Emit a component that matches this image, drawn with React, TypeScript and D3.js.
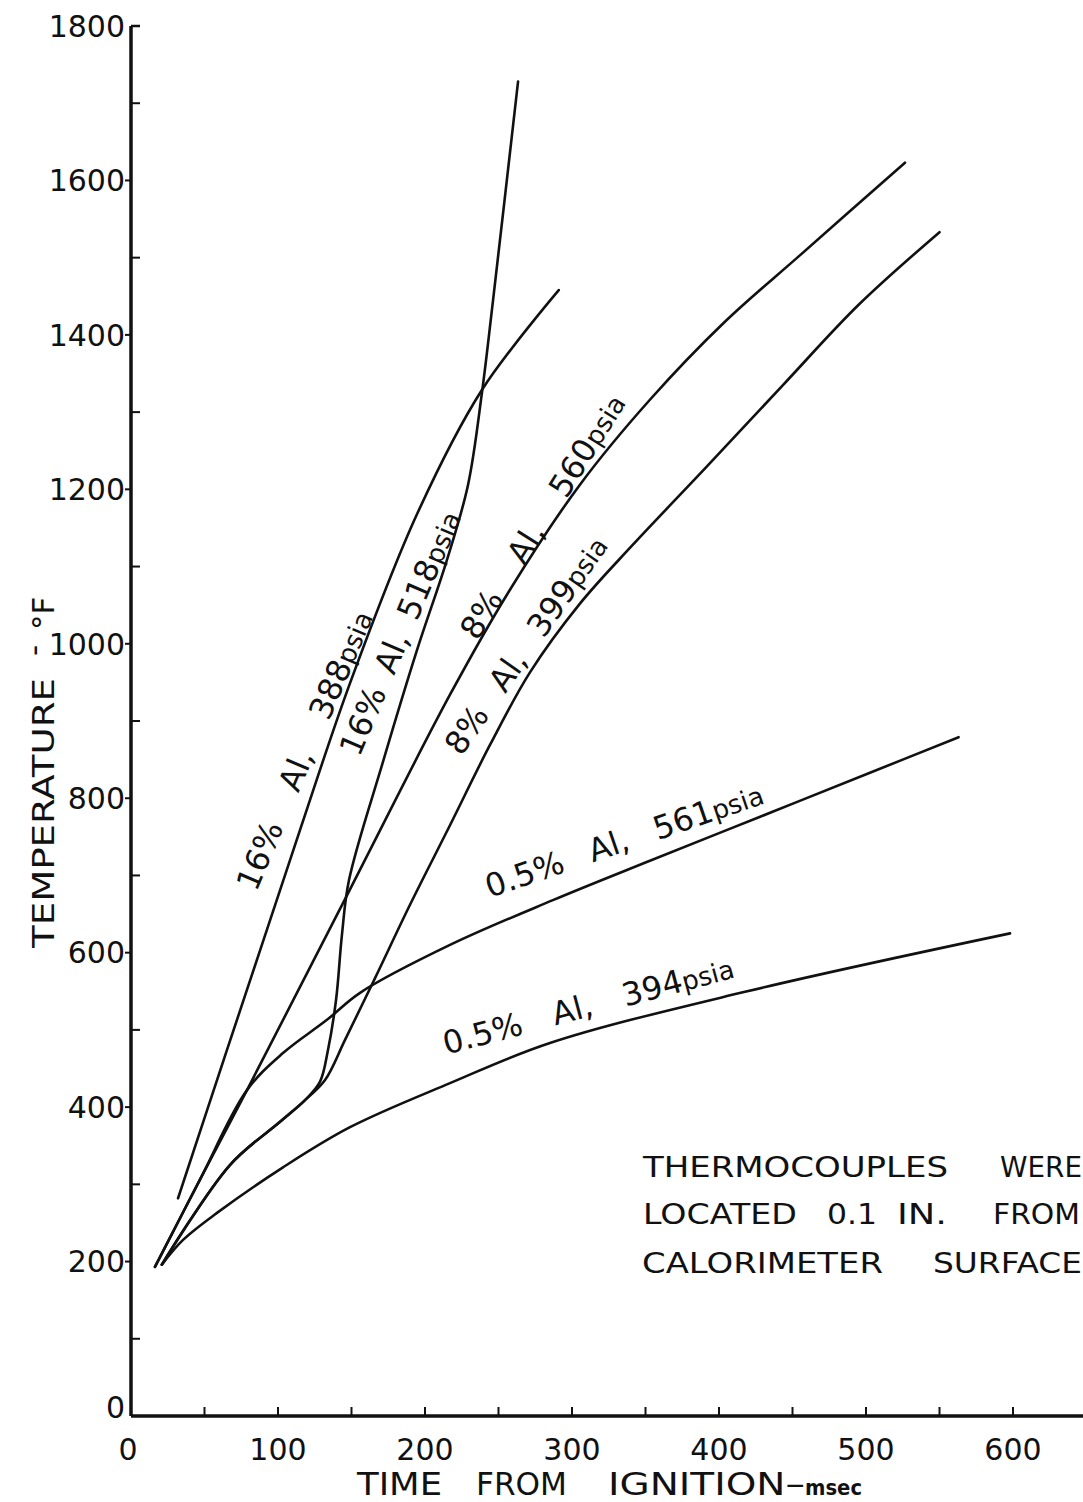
import React, { useEffect, useRef } from "react";
import * as d3 from "d3";

const W = 1083;
const H = 1502;

// tick values
const xTickLabels = [0, 100, 200, 300, 400, 500, 600];
const xMinorTicks = [50, 100, 150, 200, 250, 300, 350, 400, 450, 500, 550, 600];
const yTickLabels = [0, 200, 400, 600, 800, 1000, 1200, 1400, 1600, 1800];
const yMinorTicks = [100, 300, 500, 700, 900, 1100, 1300, 1500, 1700];

// [time msec, temperature °F]
const al16_388 = [[32, 282], [65.3, 474], [87.8, 603], [115, 759], [149, 949], [194.6, 1168], [238.8, 1329], [291, 1458]];
const al16_518 = [[21, 196], [67.3, 325], [101.4, 381], [118.4, 409], [128.6, 433], [134, 474], [139.5, 539], [143.5, 623], [148.3, 694], [171.4, 847], [194.6, 992], [215, 1109], [229.3, 1206], [238.8, 1326], [246.3, 1445], [263.3, 1728]];
const al8_560 = [[16.3, 193], [46.9, 306], [78.9, 422], [149, 682], [217, 934], [257.8, 1070], [305.4, 1206], [353, 1316], [404, 1417], [455, 1503], [526.5, 1623]];
const al8_399 = [[21, 196], [67.3, 325], [101.4, 381], [118.4, 409], [132, 435], [145.6, 487], [166, 567], [189.8, 662], [217, 765], [244.2, 869], [271.4, 963], [305.4, 1052], [340.8, 1127], [391, 1228], [443.5, 1335], [495, 1439], [550, 1533]];
const al05_561 = [[16.3, 193], [46.9, 306], [78.9, 422], [103.4, 470], [133.3, 513], [155.8, 548], [217, 610], [287, 668], [353, 719], [428, 776], [502.7, 833], [563, 879]];
const al05_394 = [[21, 196], [35.4, 228], [58.5, 263], [103.4, 322], [149, 374], [217, 431], [285, 483], [417, 549], [598, 625]];

const series = [al16_388, al16_518, al8_560, al8_399, al05_561, al05_394];

// curve labels: centre in data units, angle in degrees, drawn length in px
const curveLabels = [
  { words: ["16%", "Al,", "388"], unit: "psia", t: 118, T: 862, angle: -67, len: 300 },
  { words: ["16%", "Al,", "518"], unit: "psia", t: 183, T: 1014, angle: -67, len: 262 },
  { words: ["8%", "Al,", "560"], unit: "psia", t: 280, T: 1165, angle: -58, len: 282 },
  { words: ["8%", "Al,", "399"], unit: "psia", t: 268.7, T: 998.5, angle: -55, len: 258 },
  { words: ["0.5%", "Al,", "561"], unit: "psia", t: 335.4, T: 746, angle: -19, len: 292 },
  { words: ["0.5%", "Al,", "394"], unit: "psia", t: 311, T: 532, angle: -15, len: 300 },
];

// note words: [text, x start, x end, baseline]
const noteWords: [string, number, number, number][] = [
  ["THERMOCOUPLES", 643, 948, 1177],
  ["WERE", 1000, 1082, 1177],
  ["LOCATED", 643, 797, 1224],
  ["0.1", 827, 877, 1224],
  ["IN.", 897, 947, 1224],
  ["FROM", 993, 1080, 1224],
  ["CALORIMETER", 642, 883, 1273],
  ["SURFACE", 933, 1082, 1273],
];

const App = () => {
  const svgRef = useRef<SVGSVGElement>(null);

  useEffect(() => {
    const svg = d3.select(svgRef.current);
    svg.selectAll("*").remove();
    const font = "'DejaVu Sans', sans-serif";
    const ink = "#111";

    const x = d3.scaleLinear().domain([0, 600]).range([131, 1013]);
    const y = d3.scaleLinear().domain([0, 1800]).range([1416, 26]);

    // axes
    svg.append("line")
      .attr("x1", x(0)).attr("x2", W)
      .attr("y1", y(0)).attr("y2", y(0))
      .attr("stroke", ink).attr("stroke-width", 3.5);
    svg.append("line")
      .attr("x1", x(0)).attr("x2", x(0))
      .attr("y1", y(0)).attr("y2", y(1800))
      .attr("stroke", ink).attr("stroke-width", 3.5);
    svg.append("line")
      .attr("x1", x(0)).attr("x2", x(0) + 9)
      .attr("y1", y(1800)).attr("y2", y(1800))
      .attr("stroke", ink).attr("stroke-width", 2.5);

    // x ticks point up, y minor ticks point in, y major ticks point out
    svg.selectAll(".xt").data(xMinorTicks).join("line")
      .attr("x1", d => x(d)).attr("x2", d => x(d))
      .attr("y1", y(0)).attr("y2", y(0) - 9)
      .attr("stroke", ink).attr("stroke-width", 2);
    svg.selectAll(".ytm").data(yMinorTicks).join("line")
      .attr("x1", x(0)).attr("x2", x(0) + 9)
      .attr("y1", d => y(d)).attr("y2", d => y(d))
      .attr("stroke", ink).attr("stroke-width", 2);
    svg.selectAll(".ytM").data(yTickLabels.slice(1, -1)).join("line")
      .attr("x1", x(0) - 6).attr("x2", x(0))
      .attr("y1", d => y(d)).attr("y2", d => y(d))
      .attr("stroke", ink).attr("stroke-width", 2);

    // tick labels
    svg.selectAll(".yl").data(yTickLabels).join("text")
      .attr("x", 125).attr("y", d => (d === 0 ? y(d) - 9 : y(d))).attr("dy", "0.36em")
      .attr("text-anchor", "end")
      .attr("font-family", font).attr("font-size", 30).attr("fill", ink)
      .text(d => d);
    svg.selectAll(".xl").data(xTickLabels).join("text")
      .attr("x", d => (d === 0 ? 128 : x(d))).attr("y", 1460)
      .attr("text-anchor", "middle")
      .attr("font-family", font).attr("font-size", 30).attr("fill", ink)
      .text(d => d);

    // axis titles
    const yt = svg.append("g").attr("transform", "translate(54,948) rotate(-90)");
    yt.append("text").attr("x", 0).attr("y", 0)
      .attr("font-family", font).attr("font-size", 31).attr("fill", ink)
      .attr("textLength", 270).attr("lengthAdjust", "spacingAndGlyphs")
      .text("TEMPERATURE");
    yt.append("text").attr("x", 292).attr("y", -10)
      .attr("font-family", font).attr("font-size", 31).attr("fill", ink)
      .text("-");
    yt.append("text").attr("x", 318).attr("y", 0)
      .attr("font-family", font).attr("font-size", 31).attr("fill", ink)
      .text("°F");

    const xtw: [string, number, number, number, string][] = [
      ["TIME", 357, 442, 32, "normal"],
      ["FROM", 476, 567, 32, "normal"],
      ["IGNITION–", 608, 805, 32, "normal"],
      ["msec", 805, 862, 22, "bold"],
    ];
    svg.selectAll(".xtt").data(xtw).join("text")
      .attr("x", d => d[1]).attr("y", 1495)
      .attr("textLength", d => d[2] - d[1]).attr("lengthAdjust", "spacingAndGlyphs")
      .attr("font-family", font).attr("font-size", d => d[3]).attr("font-weight", d => d[4])
      .attr("fill", ink)
      .text(d => d[0]);

    // curves
    const line = d3.line<number[]>()
      .x(d => x(d[0]))
      .y(d => y(d[1]))
      .curve(d3.curveCatmullRom.alpha(0.5));
    svg.selectAll(".curve").data(series).join("path")
      .attr("d", d => line(d))
      .attr("fill", "none")
      .attr("stroke", ink)
      .attr("stroke-width", 2.6)
      .attr("stroke-linecap", "round");

    // curve labels, with the word gaps widened to the length seen in the chart
    curveLabels.forEach(d => {
      const t = svg.append("text")
        .attr("transform", `translate(${x(d.t)},${y(d.T)}) rotate(${d.angle})`)
        .attr("text-anchor", "middle").attr("dy", "0.35em")
        .attr("font-family", font).attr("font-size", 32).attr("fill", ink)
        .style("white-space", "pre");
      t.append("tspan").text(d.words.join(" "));
      t.append("tspan").attr("font-size", 26).text(d.unit);
      const natural = (t.node() as SVGTextElement).getComputedTextLength();
      const gap = Math.max(0, (d.len - natural) / (d.words.length - 1));
      t.style("word-spacing", `${gap}px`);
    });

    // note
    svg.selectAll(".note").data(noteWords).join("text")
      .attr("x", d => d[1]).attr("y", d => d[3])
      .attr("textLength", d => d[2] - d[1]).attr("lengthAdjust", "spacingAndGlyphs")
      .attr("font-family", font).attr("font-size", 28).attr("fill", ink)
      .text(d => d[0]);
  }, []);

  return (
    <svg
      ref={svgRef}
      width={W}
      height={H}
      style={{ position: "absolute", left: 0, top: 0, background: "#fff" }}
    />
  );
};

export default App;
